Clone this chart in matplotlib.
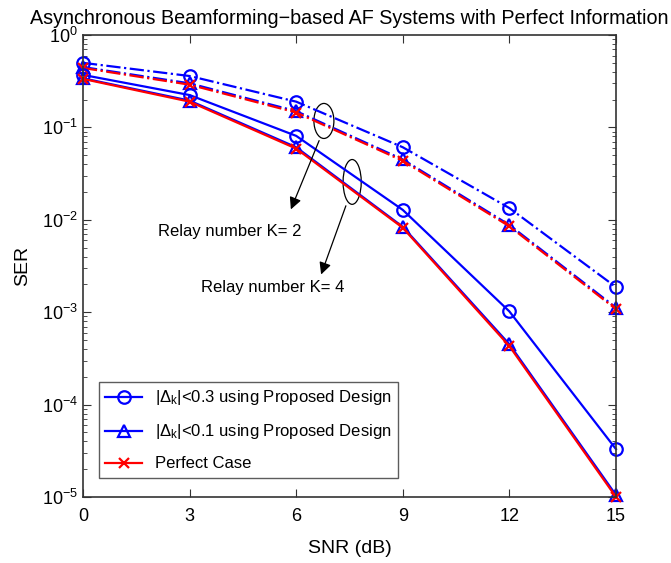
#!/usr/bin/env python3
"""SER vs SNR for asynchronous beamforming-based AF relay systems."""

import matplotlib
matplotlib.use('Agg')
import matplotlib.pyplot as plt
from matplotlib.patches import Ellipse
from matplotlib.ticker import LogLocator, NullFormatter, FixedLocator

plt.rcParams['font.family'] = ['Liberation Sans', 'DejaVu Sans']
plt.rcParams['mathtext.fontset'] = 'custom'
plt.rcParams['mathtext.rm'] = 'Liberation Sans'
plt.rcParams['mathtext.it'] = 'Liberation Sans:italic'

# SNR points (dB)
snr = [0, 3, 6, 9, 12, 15]

# K = 2 relays (dash-dot curves)
k2_d03 = [0.50, 0.36, 0.19, 0.061, 0.0134, 0.00187]
k2_d01 = [0.45, 0.30, 0.150, 0.045, 0.0088, 0.00112]
k2_perfect = [0.44, 0.29, 0.145, 0.0435, 0.0085, 0.00108]

# K = 4 relays (solid curves)
k4_d03 = [0.37, 0.224, 0.081, 0.0128, 0.00102, 3.3e-5]
k4_d01 = [0.34, 0.195, 0.061, 0.0084, 0.00045, 1.05e-5]
k4_perfect = [0.335, 0.19, 0.059, 0.0082, 0.00043, 1.0e-5]

labels = [r'|$\Delta_\mathrm{k}$|<0.3 using Proposed Design',
          r'|$\Delta_\mathrm{k}$|<0.1 using Proposed Design',
          'Perfect Case']

fig = plt.figure(figsize=(6.71, 5.63), dpi=100)
ax = fig.add_axes([0.1237, 0.1172, 0.7943, 0.8206])

lw = 1.6
ms = 9
blue = (0, 0, 1)
red = (1, 0, 0)

# K=2
ax.semilogy(snr, k2_d03, linestyle='-.', color=blue, lw=lw, marker='o', ms=ms,
            mfc='none', mew=1.6)
ax.semilogy(snr, k2_d01, linestyle='-.', color=blue, lw=lw, marker='^', ms=ms,
            mfc='none', mew=1.6)
ax.semilogy(snr, k2_perfect, linestyle='-.', color=red, lw=lw, marker='x', ms=7,
            mew=1.6)

# K=4
h1, = ax.semilogy(snr, k4_d03, linestyle='-', color=blue, lw=lw, marker='o', ms=ms,
                  mfc='none', mew=1.6)
h2, = ax.semilogy(snr, k4_d01, linestyle='-', color=blue, lw=lw, marker='^', ms=ms,
                  mfc='none', mew=1.6)
h3, = ax.semilogy(snr, k4_perfect, linestyle='-', color=red, lw=lw, marker='x', ms=7,
                  mew=1.6)

for line in ax.get_lines():
    line.set_clip_on(False)

ax.set_xlim(0, 15)
ax.set_ylim(1e-5, 1e0)
ax.xaxis.set_major_locator(FixedLocator(snr))
ax.yaxis.set_major_locator(LogLocator(base=10, numticks=10))
ax.yaxis.set_minor_locator(LogLocator(base=10, subs=range(2, 10), numticks=10))
ax.yaxis.set_minor_formatter(NullFormatter())
ax.tick_params(which='both', direction='in', top=True, right=True,
               labelsize=13, color='#333333')
ax.tick_params(axis='x', which='major', pad=8)
ax.tick_params(which='major', length=6)
ax.tick_params(which='minor', length=3)
for sp in ax.spines.values():
    sp.set_color('#333333')
    sp.set_linewidth(1.2)

ax.set_xlabel('SNR (dB)', fontsize=14, labelpad=11)
ax.set_ylabel('SER', fontsize=14, labelpad=8)
ax.set_title('Asynchronous Beamforming\u2212based AF Systems with Perfect Information',
             fontsize=14.2, pad=8)

leg = ax.legend([h1, h2, h3], labels, loc='lower left', bbox_to_anchor=(0.02, 0.03),
                fontsize=12, frameon=True, fancybox=False, edgecolor='#333333',
                handlelength=2.2, borderaxespad=0.3, labelspacing=0.9)
leg.get_frame().set_linewidth(1.0)

# annotations
ax.add_patch(Ellipse((0.452, 0.814), 0.0375, 0.0758, transform=ax.transAxes,
                     fill=False, ec='black', lw=0.9))
ax.add_patch(Ellipse((0.505, 0.682), 0.034, 0.097, transform=ax.transAxes,
                     fill=False, ec='black', lw=0.9))
ax.annotate('', xy=(0.388, 0.617), xytext=(0.445, 0.777), xycoords='axes fraction',
            arrowprops=dict(arrowstyle='-|>', color='black', lw=0.9,
                            mutation_scale=18))
ax.annotate('', xy=(0.445, 0.476), xytext=(0.495, 0.636), xycoords='axes fraction',
            arrowprops=dict(arrowstyle='-|>', color='black', lw=0.9,
                            mutation_scale=18))
ax.text(0.276, 0.574, 'Relay number K= 2', transform=ax.transAxes,
        ha='center', va='center', fontsize=12)
ax.text(0.355, 0.453, 'Relay number K= 4', transform=ax.transAxes,
        ha='center', va='center', fontsize=12)

fig.savefig('out.png', dpi=100)
